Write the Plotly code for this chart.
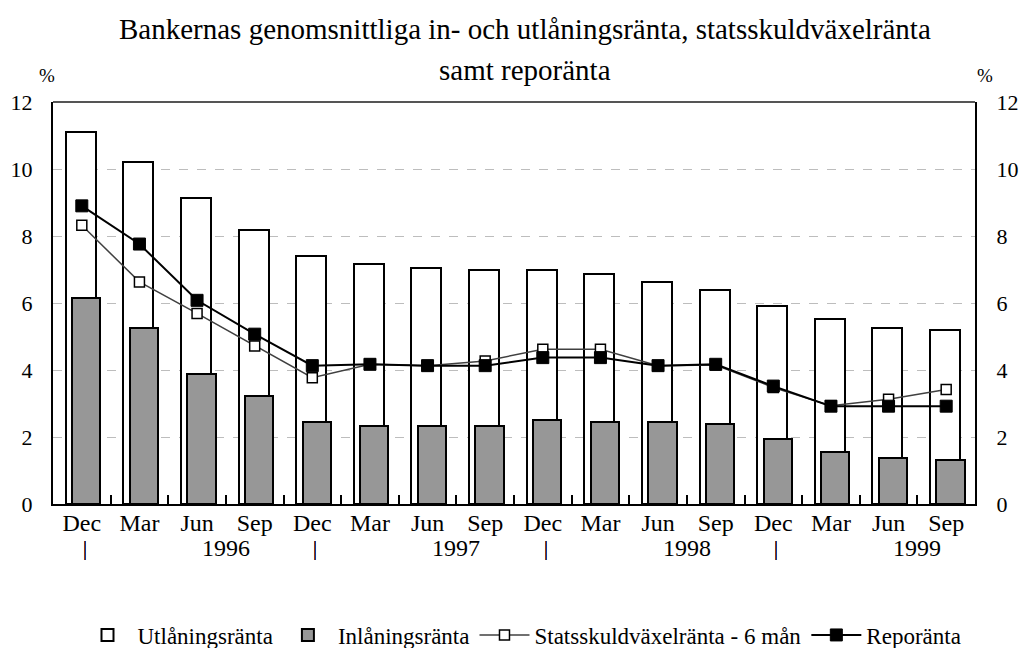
import plotly.graph_objects as go

months = ["Dec", "Mar", "Jun", "Sep", "Dec", "Mar", "Jun", "Sep",
          "Dec", "Mar", "Jun", "Sep", "Dec", "Mar", "Jun", "Sep"]
years = ["1996", "1997", "1998", "1999"]
utlaning = [11.10, 10.21, 9.14, 8.17, 7.40, 7.17, 7.04, 6.98,
            6.98, 6.87, 6.63, 6.38, 5.91, 5.51, 5.26, 5.19]
inlaning = [6.14, 5.26, 3.89, 3.22, 2.46, 2.33, 2.33, 2.33,
            2.50, 2.46, 2.46, 2.40, 1.93, 1.56, 1.38, 1.32]
statsskuld = [8.32, 6.63, 5.69, 4.72, 3.77, 4.17, 4.13, 4.27,
              4.62, 4.62, 4.13, 4.15, 3.48, 2.93, 3.13, 3.42]
repo = [8.90, 7.76, 6.08, 5.07, 4.13, 4.17, 4.13, 4.13,
        4.37, 4.37, 4.13, 4.17, 3.52, 2.92, 2.92, 2.92]

x = list(range(len(months)))
FONT = "Liberation Serif"
XTICKFONT = 24
YTICKFONT = 22
OFF = 8  # page body margin offset

fig = go.Figure()
fig.add_trace(go.Bar(x=x, y=utlaning, name="Utlåningsränta", width=0.52, offset=-0.28,
                     marker=dict(color="white", line=dict(color="black", width=2))))
fig.add_trace(go.Bar(x=x, y=inlaning, name="Inlåningsränta", width=0.49, offset=-0.17,
                     marker=dict(color="#979797", line=dict(color="black", width=2))))
fig.add_trace(go.Scatter(x=x, y=statsskuld, name="Statsskuldväxelränta - 6 mån", mode="lines+markers",
                         line=dict(color="#404040", width=1.5),
                         marker=dict(symbol="square", size=10, color="white",
                                     line=dict(color="black", width=1.5))))
fig.add_trace(go.Scatter(x=x, y=repo, name="Reporänta", mode="lines+markers",
                         line=dict(color="black", width=2),
                         marker=dict(symbol="square", size=12, color="black",
                                     line=dict(color="black", width=1))))
# invisible trace for right axis
fig.add_trace(go.Scatter(x=[x[0]], y=[0], yaxis="y2", showlegend=False,
                         mode="markers", marker=dict(opacity=0), hoverinfo="skip"))

W, H = 1035 - OFF, 648 - OFF
fig.update_layout(
    width=W, height=H,
    margin=dict(l=53 - OFF, r=W - (975 - OFF), t=102 - OFF, b=H - (504 - OFF), autoexpand=False),
    plot_bgcolor="white", paper_bgcolor="white",
    barmode="overlay", bargap=0,
    font=dict(family=FONT, size=XTICKFONT, color="black"),
    showlegend=True,
    legend=dict(orientation="h", x=(522 - OFF) / W, xref="container", xanchor="center",
                y=1 - (635 - OFF) / H, yref="container", yanchor="middle",
                font=dict(size=23, color="black"), itemwidth=50, tracegroupgap=0),
    xaxis=dict(range=[-0.5, len(months) - 0.5], tickmode="array", tickvals=x, ticktext=months,
               ticks="", showgrid=False, zeroline=False, showline=True,
               linecolor="black", linewidth=2, mirror=False,
               minor=dict(tickmode="array", tickvals=[i + 0.5 for i in x[:-1]],
                          ticks="inside", ticklen=9, tickcolor="black", tickwidth=1.5, showgrid=False),
               tickfont=dict(size=XTICKFONT), ticklabelstandoff=-4),
    yaxis=dict(range=[0, 12], tickmode="array", tickvals=[0, 2, 4, 6, 8, 10, 12],
               showgrid=True, gridcolor="#bdbdbd", griddash="dash", gridwidth=1.2,
               zeroline=False, showline=True, linecolor="black", linewidth=2,
               ticks="", tickfont=dict(size=YTICKFONT), ticklabelstandoff=14),
    yaxis2=dict(range=[0, 12], overlaying="y", side="right", tickmode="array",
                tickvals=[0, 2, 4, 6, 8, 10, 12], showgrid=False, zeroline=False,
                showline=True, linecolor="black", linewidth=2,
                ticks="", tickfont=dict(size=YTICKFONT), ticklabelstandoff=15),
)

# top border
fig.add_shape(type="line", xref="paper", yref="paper", x0=0, x1=1, y0=1, y1=1,
              line=dict(color="#555555", width=2))

PH = 402.0
def py(pix):
    return (504 - pix) / PH

def px(pix):
    return (pix - 53) / 922.0

annotations = [
    dict(text="Bankernas genomsnittliga in- och utlåningsränta, statsskuldväxelränta",
         xref="paper", yref="paper", x=px(525), y=py(29),
         showarrow=False, font=dict(size=29, color="black"), xanchor="center", yanchor="middle"),
    dict(text="samt reporänta", xref="paper", yref="paper", x=px(525), y=py(70),
         showarrow=False, font=dict(size=29, color="black"), xanchor="center", yanchor="middle"),
    dict(text="%", xref="paper", yref="paper", x=px(47), y=py(76),
         showarrow=False, font=dict(size=19, color="black"), xanchor="center", yanchor="middle"),
    dict(text="%", xref="paper", yref="paper", x=px(985), y=py(76),
         showarrow=False, font=dict(size=19, color="black"), xanchor="center", yanchor="middle"),
]
for i, yr in enumerate(years):
    annotations.append(dict(text="|", xref="x", yref="paper", x=4 * i + 0.05, y=py(548),
                            showarrow=False, yanchor="middle",
                            font=dict(size=20, color="black", shadow="0px 0px 0.6px #000000")))
    annotations.append(dict(text=yr, xref="x", yref="paper", x=4 * i + 2.5, y=py(548),
                            showarrow=False, font=dict(size=XTICKFONT, color="black"), yanchor="middle"))
fig.update_layout(annotations=annotations)

fig.write_html("out.html")
